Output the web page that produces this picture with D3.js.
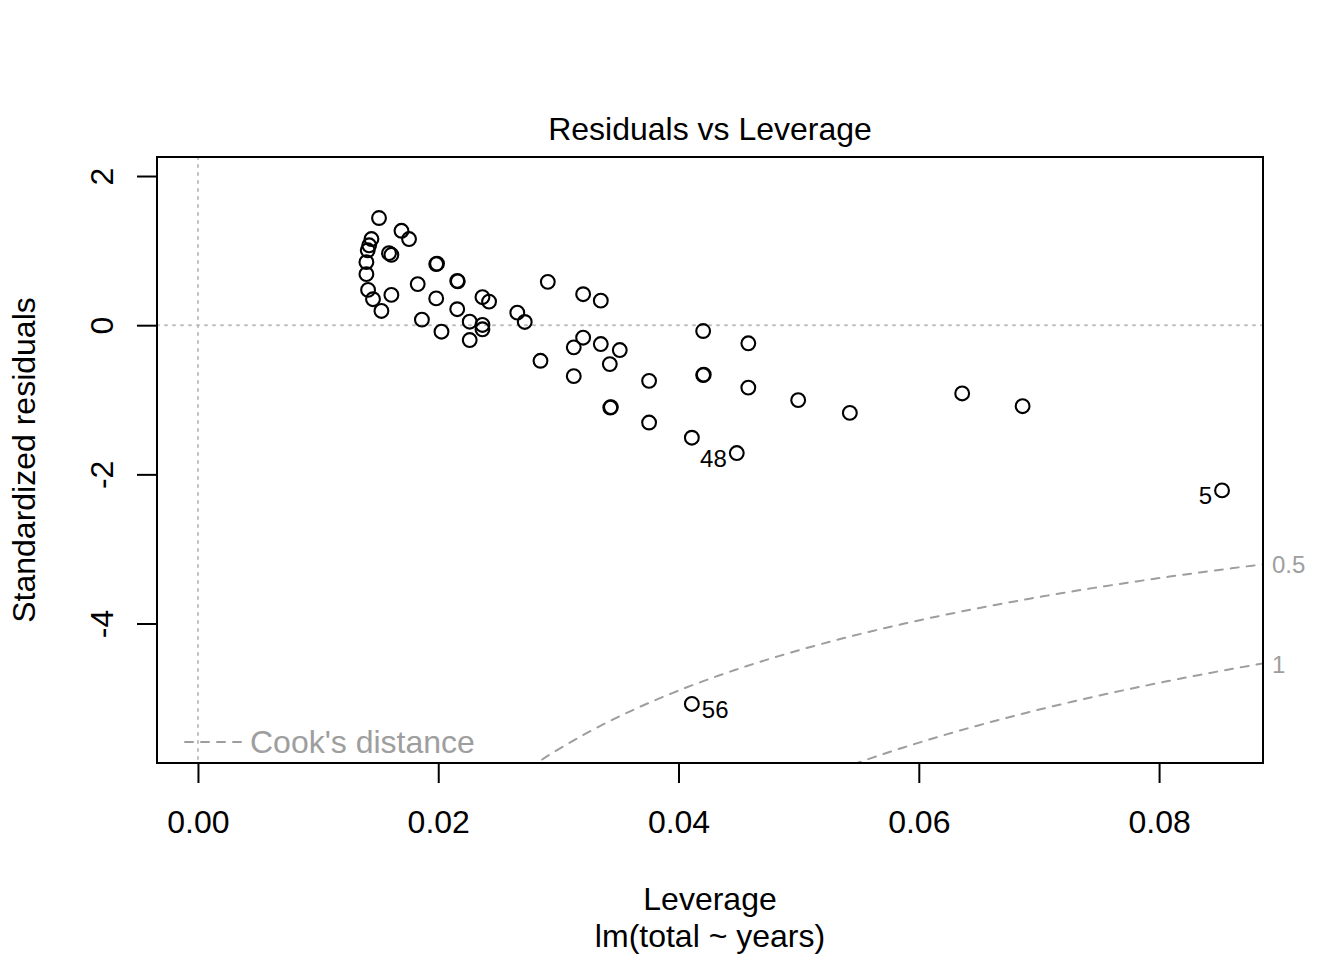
<!DOCTYPE html>
<html>
<head>
<meta charset="utf-8">
<script src="https://cdn.jsdelivr.net/npm/d3@7"></script>
<style>
  body { margin: 0; background: #fff; }
  svg text { font-family: "Liberation Sans", Arial, Helvetica, sans-serif; }
</style>
</head>
<body>
<svg id="chart" width="1344" height="960"></svg>
<script>
const leverage = [
  0.01507, 0.01444, 0.01425, 0.01413, 0.01402, 0.01402, 0.01416, 0.01457, 0.01527,
  0.01694, 0.01757, 0.01590, 0.01610, 0.01610, 0.01829,
  0.01983, 0.01990, 0.01983,
  0.02158, 0.02163, 0.02158,
  0.01864, 0.02027, 0.02262, 0.02368, 0.02423, 0.02368, 0.02368, 0.02262,
  0.02658, 0.02720, 0.02912, 0.03206, 0.03353, 0.03206, 0.03128, 0.03353, 0.03511,
  0.03428, 0.02851, 0.03128, 0.03755,
  0.04205, 0.04205, 0.04210, 0.04581, 0.04581,
  0.03432, 0.03437, 0.03755, 0.04111,
  0.04996, 0.05426, 0.06361, 0.06864,
  0.04485, 0.08524, 0.04111
];

// Standardized residuals, same order.
const stdResiduals = [
  1.437, 1.155, 1.071, 1.004, 0.845, 0.684, 0.473, 0.348, 0.191,
  1.266, 1.155, 0.966, 0.944, 0.406, 0.551,
  0.819, 0.826, 0.359,
  0.594, 0.588, 0.214,
  0.074, -0.087, 0.047, 0.375, 0.316, 0.003, -0.055, -0.199,
  0.168, 0.043, 0.581, 0.415, 0.329, -0.168, -0.297, -0.253, -0.333,
  -0.522, -0.477, -0.683, -0.746,
  -0.078, -0.669, -0.664, -0.243, -0.837,
  -1.104, -1.098, -1.305, -1.509,
  -1.005, -1.176, -0.915, -1.086,
  -1.714, -2.215, -5.078
];

// The three flagged observations are the last three in the arrays.
const flaggedIds = ['48', '5', '56'];
const flaggedIndex = [55, 56, 57];

const xTicks = [0, 0.02, 0.04, 0.06, 0.08];
const yTicks = [-4, -2, 0, 2];
const yLimits = [-5.87, 2.255];
const cookLevels = [0.5, 1];
const nCoef = 2;

const title = 'Residuals vs Leverage';
const xTitle = 'Leverage';
const subTitle = 'lm(total ~ years)';
const yTitle = 'Standardized residuals';

const GREY_DOT = '#bebebe';
const GREY_COOK = '#9e9e9e';

const plot = { left: 157, right: 1263, top: 157, bottom: 763 };

const svg = d3.select('#chart');

// R-style x range: xlim = c(0, max), then 4% padding
const pad = (lo, hi) => [lo - 0.04 * (hi - lo), hi + 0.04 * (hi - lo)];
const hMax = d3.max(leverage);

const xScale = d3.scaleLinear()
  .domain(pad(0, hMax))
  .range([plot.left, plot.right]);

const yScale = d3.scaleLinear()
  .domain(yLimits)
  .range([plot.bottom, plot.top]);

svg.append('defs')
  .append('clipPath')
  .attr('id', 'plot-clip')
  .append('rect')
  .attr('x', plot.left)
  .attr('y', plot.top)
  .attr('width', plot.right - plot.left)
  .attr('height', plot.bottom - plot.top);

const inner = svg.append('g')
  .attr('clip-path', 'url(#plot-clip)');

// reference lines at h = 0 and residual = 0
inner.append('line')
  .attr('x1', plot.left).attr('x2', plot.right)
  .attr('y1', yScale(0)).attr('y2', yScale(0))
  .attr('stroke', GREY_DOT).attr('stroke-width', 2)
  .attr('stroke-dasharray', '2,6').attr('stroke-linecap', 'round');

inner.append('line')
  .attr('x1', xScale(0)).attr('x2', xScale(0))
  .attr('y1', plot.top).attr('y2', plot.bottom)
  .attr('stroke', GREY_DOT).attr('stroke-width', 2)
  .attr('stroke-dasharray', '2,6').attr('stroke-linecap', 'round');

// Cook's distance contours, sampled like plot.lm does
const hSorted = leverage.slice().sort(d3.ascending);
const hStart = Math.min(hSorted[0], hMax / 100);
const hEnd = xScale.domain()[1];
const hGrid = d3.range(101).map(i => hStart + i * (hEnd - hStart) / 100);

const contour = d3.line()
  .x(d => xScale(d[0]))
  .y(d => yScale(d[1]));

cookLevels.forEach(level => {
  [1, -1].forEach(sign => {
    const pts = hGrid.map(h => [h, sign * Math.sqrt(level * nCoef * (1 - h) / h)]);
    inner.append('path')
      .attr('d', contour(pts))
      .attr('fill', 'none')
      .attr('stroke', GREY_COOK)
      .attr('stroke-width', 2)
      .attr('stroke-dasharray', '8,8')
      .attr('stroke-linecap', 'round');
  });
});

// points
svg.append('g')
  .selectAll('circle')
  .data(leverage.map((h, i) => [h, stdResiduals[i]]))
  .join('circle')
  .attr('cx', d => xScale(d[0]))
  .attr('cy', d => yScale(d[1]))
  .attr('r', 6.9)
  .attr('fill', 'none')
  .attr('stroke', '#000')
  .attr('stroke-width', 2.1);

// labels of the flagged observations
const xMid = d3.mean(xScale.domain());
svg.append('g')
  .selectAll('text')
  .data(flaggedIndex)
  .join('text')
  .attr('x', i => xScale(leverage[i]) + (leverage[i] > xMid ? -10 : 10))
  .attr('y', i => yScale(stdResiduals[i]))
  .attr('dy', '0.58em')
  .attr('text-anchor', i => leverage[i] > xMid ? 'end' : 'start')
  .attr('font-size', 24)
  .attr('fill', '#000')
  .text((i, k) => flaggedIds[k]);

// Cook's level labels on the right margin
const xEdge = Math.min(0.99, hEnd);
const yDom = yScale.domain();
const cookMarks = [];
cookLevels.forEach(level => {
  const v = Math.sqrt(level * nCoef * (1 - xEdge) / xEdge);
  [-v, v].forEach(y => {
    if (y >= yDom[0] && y <= yDom[1]) cookMarks.push({ y: y, label: String(level) });
  });
});

svg.append('g')
  .selectAll('text')
  .data(cookMarks)
  .join('text')
  .attr('x', plot.right + 9)
  .attr('y', d => yScale(d.y))
  .attr('dy', '0.38em')
  .attr('font-size', 24)
  .attr('fill', GREY_COOK)
  .text(d => d.label);

// box
svg.append('rect')
  .attr('x', plot.left)
  .attr('y', plot.top)
  .attr('width', plot.right - plot.left)
  .attr('height', plot.bottom - plot.top)
  .attr('fill', 'none')
  .attr('stroke', '#000')
  .attr('stroke-width', 2);

// x axis
const xAxis = svg.append('g')
  .attr('transform', `translate(0,${plot.bottom})`)
  .call(d3.axisBottom(xScale)
    .tickValues(xTicks)
    .tickSize(20)
    .tickFormat(d3.format('.2f')));

xAxis.select('.domain').remove();
xAxis.selectAll('.tick line')
  .attr('stroke', '#000')
  .attr('stroke-width', 2);
xAxis.selectAll('.tick text')
  .attr('y', 70)
  .attr('dy', 0)
  .attr('font-size', 32)
  .attr('fill', '#000');

// y axis, labels parallel to the axis as in R (plain hyphen for minus)
const yAxis = svg.append('g')
  .attr('transform', `translate(${plot.left},0)`)
  .call(d3.axisLeft(yScale)
    .tickValues(yTicks)
    .tickSize(20)
    .tickFormat(d => String(d)));

yAxis.select('.domain').remove();
yAxis.selectAll('.tick line')
  .attr('stroke', '#000')
  .attr('stroke-width', 2);
yAxis.selectAll('.tick text')
  .attr('x', 0)
  .attr('y', 0)
  .attr('dy', 0)
  .attr('transform', 'translate(-44,0) rotate(-90)')
  .attr('text-anchor', 'middle')
  .attr('font-size', 32)
  .attr('fill', '#000');

// legend
const legend = svg.append('g')
  .attr('transform', `translate(${plot.left},${plot.bottom})`);

legend.append('line')
  .attr('x1', 28).attr('x2', 85)
  .attr('y1', -21).attr('y2', -21)
  .attr('stroke', GREY_COOK)
  .attr('stroke-width', 2)
  .attr('stroke-dasharray', '8,8')
  .attr('stroke-linecap', 'round');

legend.append('text')
  .attr('x', 93)
  .attr('y', -10)
  .attr('font-size', 32)
  .attr('fill', GREY_COOK)
  .text("Cook's distance");

// titles
const midX = (plot.left + plot.right) / 2;

svg.append('text')
  .attr('x', midX)
  .attr('y', 140)
  .attr('text-anchor', 'middle')
  .attr('font-size', 32)
  .text(title);

svg.append('text')
  .attr('x', midX)
  .attr('y', 910)
  .attr('text-anchor', 'middle')
  .attr('font-size', 32)
  .text(xTitle);

svg.append('text')
  .attr('x', midX)
  .attr('y', 947)
  .attr('text-anchor', 'middle')
  .attr('font-size', 32)
  .text(subTitle);

svg.append('text')
  .attr('transform', `translate(35,${(plot.top + plot.bottom) / 2}) rotate(-90)`)
  .attr('text-anchor', 'middle')
  .attr('font-size', 32)
  .text(yTitle);
</script>
</body>
</html>
